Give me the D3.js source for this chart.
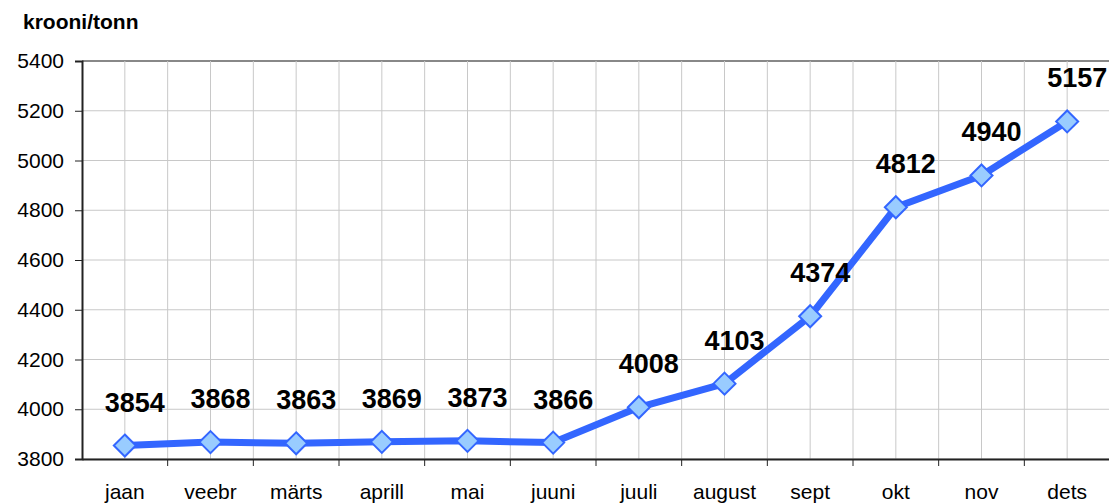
<!DOCTYPE html>
<html>
<head>
<meta charset="utf-8">
<script src="https://cdn.jsdelivr.net/npm/d3@7"></script>
<style>
  body { margin: 0; background: #fff; }
  text { font-family: "Liberation Sans", Arial, sans-serif; }
</style>
</head>
<body>
<div id="chart"></div>
<script>
// data
const months = ["jaan", "veebr", "märts", "aprill", "mai", "juuni", "juuli", "august", "sept", "okt", "nov", "dets"];
const prices = [3854, 3868, 3863, 3869, 3873, 3866, 4008, 4103, 4374, 4812, 4940, 5157];
const yTicks = [3800, 4000, 4200, 4400, 4600, 4800, 5000, 5200, 5400];

const W = 1109, H = 503;
const margin = {top: 61, right: -1, bottom: 44, left: 82};
const width = W - margin.left - margin.right,
      height = H - margin.top - margin.bottom;

const svg = d3.select("#chart")
  .append("svg")
    .attr("width", W)
    .attr("height", H);

svg.append("text")
  .attr("x", 23)
  .attr("y", 29)
  .style("font-size", "21px")
  .style("font-weight", "bold")
  .text("krooni/tonn");

const g = svg.append("g")
  .attr("transform", `translate(${margin.left},${margin.top})`);

const x = d3.scaleBand()
  .domain(months)
  .range([0, width]);

const y = d3.scaleLinear()
  .domain([3800, 5400])
  .range([height, 0]);

// horizontal grid
g.selectAll(".hgrid")
  .data(yTicks)
  .enter()
  .append("line")
    .attr("x1", 0).attr("x2", width)
    .attr("y1", d => y(d)).attr("y2", d => y(d))
    .attr("stroke", d => d == 5400 ? "#888" : "#c8c8c8")
    .attr("stroke-width", d => d == 5400 ? 2 : 1);

// vertical grid at boundaries and centers
const vlines = [];
months.forEach(function(m, i) {
  if (i > 0) vlines.push(x(m));
  vlines.push(x(m) + x.bandwidth() / 2);
});
g.selectAll(".vgrid")
  .data(vlines)
  .enter()
  .append("line")
    .attr("x1", d => d).attr("x2", d => d)
    .attr("y1", 0).attr("y2", height)
    .attr("stroke", "#c8c8c8")
    .attr("stroke-width", 1);

// y axis
const yAxis = g.append("g")
  .call(d3.axisLeft(y).tickValues(yTicks).tickSize(7).tickPadding(11).tickFormat(d3.format("d")));
yAxis.select(".domain").attr("stroke", "#222").attr("stroke-width", 2);
yAxis.selectAll(".tick line").attr("stroke", "#222");
yAxis.selectAll("text")
  .style("font-size", "21px")
  .attr("fill", "#000")
  .style("font-family", "'Liberation Sans', Arial, sans-serif");

// x axis
const xAxis = g.append("g")
  .attr("transform", `translate(0,${height})`)
  .call(d3.axisBottom(x).tickSize(0).tickPadding(25));
xAxis.select(".domain").attr("stroke", "#222").attr("stroke-width", 2);
xAxis.selectAll("text")
  .style("font-size", "21px")
  .attr("fill", "#000")
  .style("font-family", "'Liberation Sans', Arial, sans-serif");
xAxis.selectAll(".bticks")
  .data(months.slice(1))
  .enter()
  .append("line")
    .attr("x1", d => x(d)).attr("x2", d => x(d))
    .attr("y1", 0).attr("y2", 7)
    .attr("stroke", "#222");

// line
g.append("path")
  .datum(prices)
  .attr("fill", "none")
  .attr("stroke", "#3366ff")
  .attr("stroke-width", 7)
  .attr("stroke-linejoin", "round")
  .attr("d", d3.line()
    .x((d, i) => x(months[i]) + x.bandwidth() / 2)
    .y(d => y(d)));

// diamond markers
g.selectAll(".pt")
  .data(prices)
  .enter()
  .append("path")
    .attr("transform", (d, i) => `translate(${x(months[i]) + x.bandwidth() / 2},${y(d)})`)
    .attr("d", "M0,-11L11,0L0,11L-11,0Z")
    .attr("fill", "#99ccff")
    .attr("stroke", "#3366ff")
    .attr("stroke-width", 2);

// value labels
g.selectAll(".lbl")
  .data(prices)
  .enter()
  .append("text")
    .attr("x", (d, i) => x(months[i]) + x.bandwidth() / 2 + 10)
    .attr("y", d => y(d) - 34)
    .attr("text-anchor", "middle")
    .style("font-size", "27px")
    .style("font-weight", "bold")
    .text(d => d);
</script>
</body>
</html>
